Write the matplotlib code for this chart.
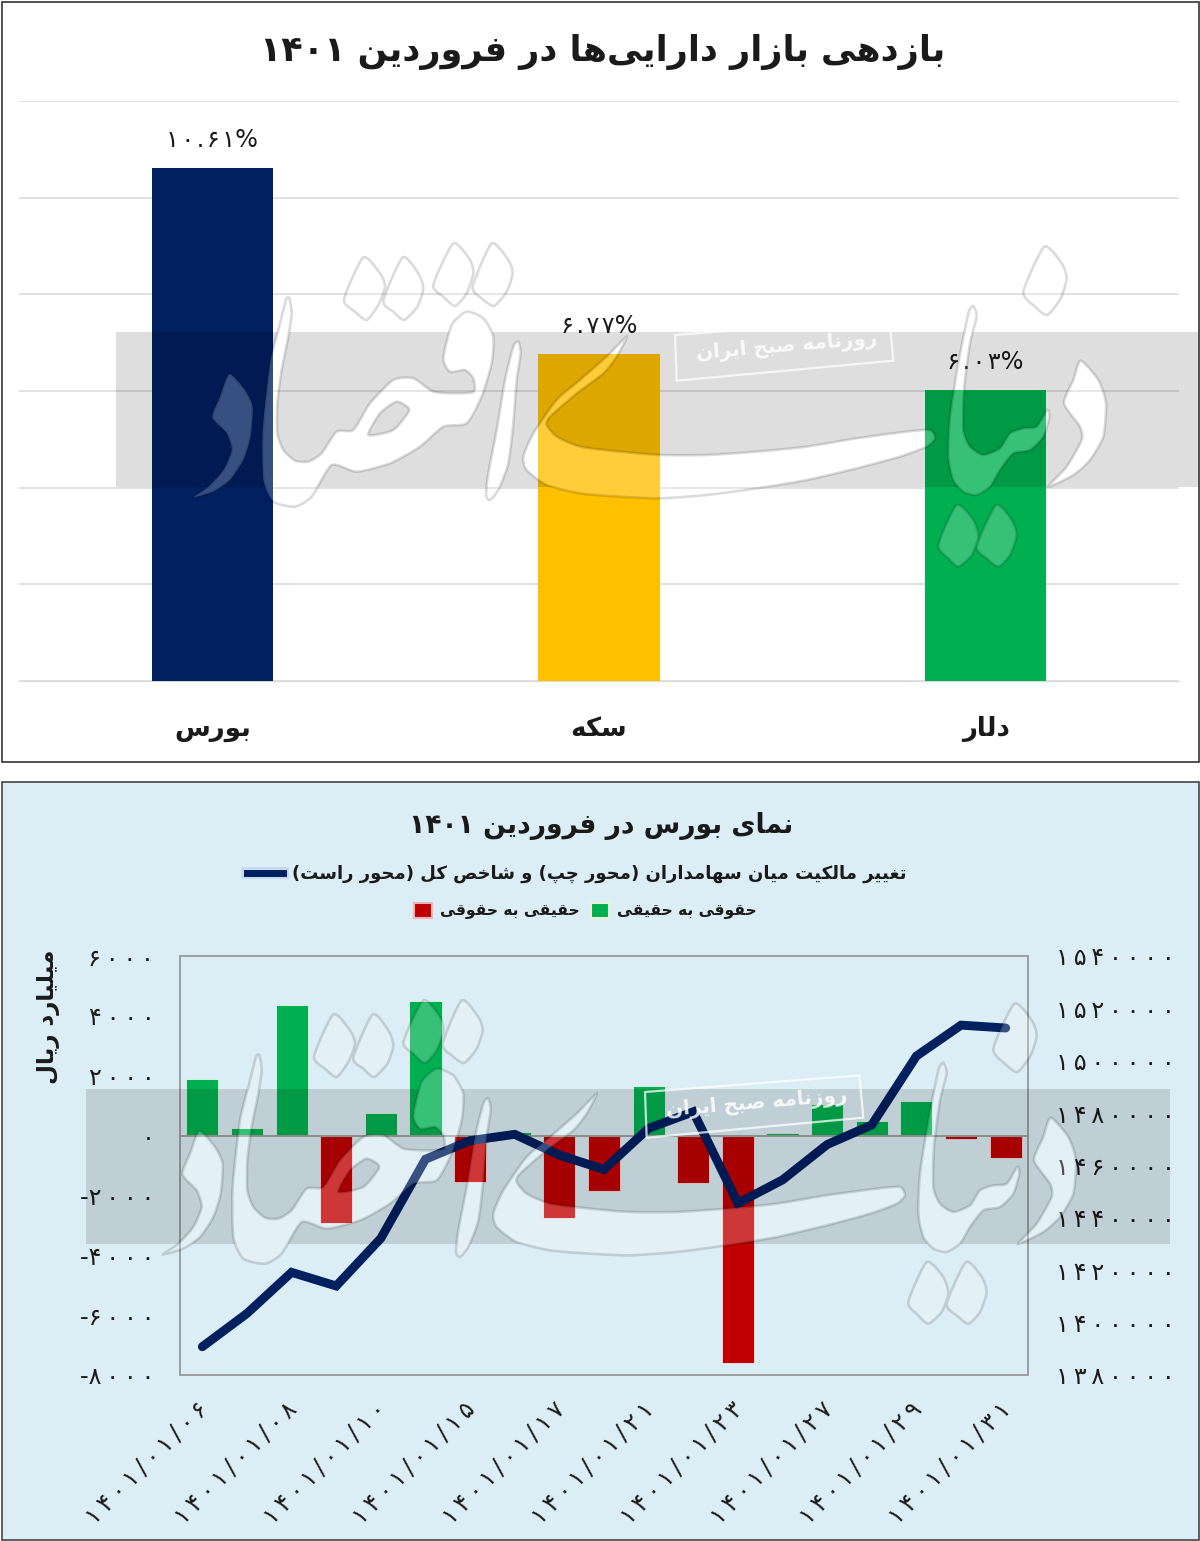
"""
Two stacked Persian charts: asset returns and the Tehran stock market in Farvardin 1401.
matplotlib does not shape Arabic script, so fa() below picks the joined letter forms.
"""

import re
import numpy as np
import matplotlib
matplotlib.use("Agg")
import matplotlib.pyplot as plt
from matplotlib.lines import Line2D
from matplotlib.patches import Patch, PathPatch, Polygon, Rectangle
from matplotlib.path import Path
from matplotlib.transforms import ScaledTranslation
import matplotlib.patheffects as pe

# ---------------- DATA ----------------
asset_names = ["بورس", "سکه", "دلار"]
asset_returns = [10.61, 6.77, 6.03]
asset_colors = ["#002060", "#FFC000", "#00B050"]

date_labels = ["1401/01/06", "1401/01/08", "1401/01/10", "1401/01/15", "1401/01/17",
               "1401/01/21", "1401/01/23", "1401/01/27", "1401/01/29", "1401/01/31"]
net_flow = np.array([1900, 240, 4370, -2930, 760, 4490, -1550, 130, -2760, -1860,
                     1650, -1600, -7600, 90, 1050, 500, 1170, -110, -760])
total_index = [1390800, 1403500, 1419200, 1414000, 1432200, 1462400, 1469500, 1471900,
               1464000, 1458500, 1474200, 1480500, 1445600, 1454500, 1468000, 1475500,
               1501800, 1513600, 1512500]
left_ticks = [-8000, -6000, -4000, -2000, 0, 2000, 4000, 6000]
right_ticks = [1380000, 1400000, 1420000, 1440000, 1460000, 1480000, 1500000, 1520000, 1540000]

title_top = "بازدهی بازار دارایی\u200cها در فروردین ۱۴۰۱"
title_bottom = "نمای بورس در فروردین ۱۴۰۱"
line_label = "تغییر مالکیت میان سهامداران (محور چپ) و شاخص کل (محور راست)"
green_label = "حقوقی به حقیقی"
red_label = "حقیقی به حقوقی"
unit_label = "میلیارد ریال"
stamp_label = "روزنامه صبح ایران"

# ---------------- CONFIG ----------------
W, H = 1200, 1541
PX = 0.72  # one pixel in points at dpi 100
plt.rcParams["font.family"] = "DejaVu Sans"
TEXT = "#1a1a1a"

# isolated, final, initial, medial (two forms: letter joins only to the right)
FORMS = {
    "ا": "\uFE8D\uFE8E", "آ": "\uFE81\uFE82", "د": "\uFEA9\uFEAA", "ر": "\uFEAD\uFEAE",
    "ز": "\uFEAF\uFEB0", "و": "\uFEED\uFEEE",
    "ب": "\uFE8F\uFE90\uFE91\uFE92", "پ": "\uFB56\uFB57\uFB58\uFB59",
    "ت": "\uFE95\uFE96\uFE97\uFE98", "ح": "\uFEA1\uFEA2\uFEA3\uFEA4",
    "خ": "\uFEA5\uFEA6\uFEA7\uFEA8", "چ": "\uFB7A\uFB7B\uFB7C\uFB7D",
    "س": "\uFEB1\uFEB2\uFEB3\uFEB4", "ش": "\uFEB5\uFEB6\uFEB7\uFEB8",
    "ص": "\uFEB9\uFEBA\uFEBB\uFEBC", "غ": "\uFECD\uFECE\uFECF\uFED0",
    "ف": "\uFED1\uFED2\uFED3\uFED4", "ق": "\uFED5\uFED6\uFED7\uFED8",
    "ک": "\uFB8E\uFB8F\uFB90\uFB91", "ل": "\uFEDD\uFEDE\uFEDF\uFEE0",
    "م": "\uFEE1\uFEE2\uFEE3\uFEE4", "ن": "\uFEE5\uFEE6\uFEE7\uFEE8",
    "ه": "\uFEE9\uFEEA\uFEEB\uFEEC", "ی": "\uFBFC\uFBFD\uFBFE\uFBFF",
}
MIRROR = {"(": ")", ")": "("}


def fa(text):
    # shape the letters, then lay the string out right to left (digit runs stay in order)
    out = []
    for i, c in enumerate(text):
        if c in FORMS:
            f = FORMS[c]
            prev_joins = i > 0 and text[i - 1] in FORMS and len(FORMS[text[i - 1]]) == 4
            next_joins = i + 1 < len(text) and text[i + 1] in FORMS
            if len(f) == 2:
                out.append(f[1] if prev_joins else f[0])
            else:
                out.append(f[3] if prev_joins and next_joins else f[1] if prev_joins
                           else f[2] if next_joins else f[0])
        elif c != "\u200c":
            out.append(c)
    runs = re.findall(r"[۰-۹]+|.", "".join(out))
    return "".join(MIRROR.get(r, r) for r in reversed(runs))


def fa_digits(value, gap="\u2009"):
    # the reference sets its numbers with wide letter spacing
    s = gap.join(str(value).translate(str.maketrans("0123456789", "۰۱۲۳۴۵۶۷۸۹")))
    return s.replace("-" + gap, "-")


def box(x0, y0, x1, y1):
    # pixel box (y down) to figure fractions
    return [x0 / W, 1 - y1 / H, (x1 - x0) / W, (y1 - y0) / H]


fig = plt.figure(figsize=(W / 100, H / 100), dpi=100, facecolor="white")

# panel backgrounds
fig.add_artist(Rectangle((1.5 / W, 1 - 762 / H), 1197.5 / W, 760.5 / H, transform=fig.transFigure,
                         facecolor="white", edgecolor="#333333", lw=1.2, zorder=-2))
fig.add_artist(Rectangle((1.5 / W, 1 - 1540 / H), 1197.5 / W, 758 / H, transform=fig.transFigure,
                         facecolor="#DCEEF5", edgecolor="#444444", lw=1.2, zorder=-2))

# ----------- TOP CHART -----------
ax1 = fig.add_axes(box(19, 101, 1179, 681), facecolor="none")
ax1.bar(range(3), asset_returns, width=0.313, color=asset_colors, zorder=3)
ax1.set_xlim(-0.5, 2.5)
ax1.set_ylim(0, 12)
ax1.set_yticks(range(0, 13, 2))
ax1.set_yticklabels([])
ax1.grid(axis="y", color="#D9D9D9", lw=1.1, zorder=0)
ax1.tick_params(length=0, pad=25)
ax1.set_xticks(range(3))
ax1.set_xticklabels([fa(n) for n in asset_names], fontsize=26 * PX, fontweight="bold", color=TEXT)
for s in ["top", "left", "right"]:
    ax1.spines[s].set_visible(False)
ax1.spines["bottom"].set_color("#D9D9D9")

for i, v in enumerate(asset_returns):
    ax1.annotate(fa_digits(f"{v:.2f}", "\u200a") + "%", (i, v), xytext=(0, 11.5),
                 textcoords="offset points", ha="center", va="bottom", fontsize=24 * PX, color=TEXT)

fig.text(603 / W, 1 - 52 / H, fa(title_top), ha="center", va="center",
         fontsize=35 * PX, fontweight="bold", color=TEXT)

# ----------- BOTTOM CHART -----------
days = np.arange(len(net_flow))
ax2 = fig.add_axes(box(180, 956, 1028, 1375), facecolor="none")
pos = net_flow > 0
ax2.bar(days[pos], net_flow[pos], width=0.72, color="#00B050", edgecolor="white", lw=0.5, zorder=2)
ax2.bar(days[~pos], net_flow[~pos], width=0.72, color="#C00000", edgecolor="white", lw=0.5, zorder=2)
ax2.axhline(0, color="#A0A0A0", lw=1.4, zorder=3)
ax2.set_xlim(-0.5, len(net_flow) - 0.5)
ax2.set_ylim(-8000, 6000)
ax2.set_yticks(left_ticks)
ax2.set_yticklabels([fa_digits(t) for t in left_ticks], fontsize=24 * PX, color=TEXT)
ax2.set_xticks(days[::2])
ax2.set_xticklabels([fa_digits(d) for d in date_labels], rotation=45, ha="right",
                    rotation_mode="anchor", fontsize=24 * PX, color=TEXT)
ax2.tick_params(axis="both", length=0)
ax2.tick_params(axis="y", pad=18.5)
ax2.tick_params(axis="x", pad=16)
for lab in ax2.get_xticklabels():
    lab.set_transform(lab.get_transform() + ScaledTranslation(-7 / 100, 0, fig.dpi_scale_trans))
ax2.set_ylabel(fa(unit_label), fontsize=23 * PX, fontweight="bold", color=TEXT)
ax2.yaxis.set_label_coords(-120 / 848, 0.854)

ax3 = ax2.twinx()
ax3.plot(days, total_index, color="#002060", lw=6.4, solid_capstyle="round",
         solid_joinstyle="miter", zorder=5)
ax3.set_ylim(1380000, 1540000)
ax3.set_yticks(right_ticks)
ax3.set_yticklabels([fa_digits(t) for t in right_ticks], fontsize=24 * PX, color=TEXT)
ax3.tick_params(axis="y", length=0, pad=20)
for a in [ax2, ax3]:
    for s in a.spines.values():
        s.set_color("#A0A0A0")
        s.set_linewidth(1.4)

fig.text(601 / W, 1 - 826 / H, fa(title_bottom), ha="center", va="center",
         fontsize=26.5 * PX, fontweight="bold", color=TEXT)

line_handle = Line2D([], [], color="#002060", lw=5,
                     path_effects=[pe.withStroke(linewidth=8.5, foreground="#C6D9F1")])
leg1 = fig.legend(handles=[line_handle], labels=[fa(line_label)], loc="center",
                  bbox_to_anchor=(577 / W, 1 - 874 / H), frameon=False, handlelength=2.0,
                  handletextpad=0.5, prop={"size": 18 * PX, "weight": "bold"}, labelcolor=TEXT)
red_handle = Patch(facecolor="#C00000", edgecolor="#EBB5B5", lw=1.5)
green_handle = Patch(facecolor="#00B050", edgecolor="#EAF3D5", lw=1.5)
leg2 = fig.legend(handles=[red_handle, green_handle], labels=[fa(red_label), fa(green_label)],
                  loc="center", bbox_to_anchor=(585.5 / W, 1 - 911 / H), frameon=False, ncol=2,
                  handlelength=1.15, handleheight=1.15, handletextpad=0.55, columnspacing=0.7,
                  prop={"size": 15.5 * PX, "weight": "bold"}, labelcolor=TEXT)

# ----------- WATERMARK -----------


def z6(pts):
    return [(180 + x / 3, 230 + y / 3) for x, y in pts]


def z7(pts):
    return [(640 + x / 3, 230 + y / 3) for x, y in pts]


def smooth(pts, n=10, k=0.32):
    # closed Hermite curve through the outline, oriented the same way for every glyph
    p = np.array(pts, dtype=float)
    t = np.linspace(0, 1, n, endpoint=False)[:, None]
    out = []
    for i in range(len(p)):
        a, b, c, d = p[i - 1], p[i], p[(i + 1) % len(p)], p[(i + 2) % len(p)]
        m0, m1 = k * (c - a), k * (d - b)
        out.append((2 * t ** 3 - 3 * t ** 2 + 1) * b + (t ** 3 - 2 * t ** 2 + t) * m0
                   + (-2 * t ** 3 + 3 * t ** 2) * c + (t ** 3 - t ** 2) * m1)
    out = np.vstack(out)
    x, y = out[:, 0], out[:, 1]
    if np.sum(x * np.roll(y, -1) - np.roll(x, -1) * y) > 0:
        out = out[::-1]
    return out


glyphs = [
    z6([(550, 82), (600, 130), (615, 170), (595, 225), (560, 270), (525, 245), (492, 208)]),
    z6([(668, 82), (715, 130), (730, 175), (712, 230), (672, 270), (640, 245), (610, 212)]),
    z6([(820, 40), (870, 90), (880, 130), (860, 190), (825, 228), (790, 200), (760, 165)]),
    z6([(935, 40), (985, 90), (998, 130), (980, 185), (942, 228), (905, 205), (878, 170)]),
    z6([(148, 432), (195, 480), (218, 530), (212, 620), (190, 690), (150, 750), (100, 785),
        (40, 802), (85, 770), (130, 720), (155, 660), (140, 610), (97, 562), (120, 500)]),
    z6([(1015, 335), (1022, 370), (1010, 450), (1000, 580), (985, 700), (955, 780), (930, 810),
        (918, 795), (925, 730), (950, 600), (975, 450), (1000, 350)]),
    # alef running into sad and qaf
    z6([(328, 205), (335, 250), (325, 320), (305, 420), (292, 520), (292, 610), (310, 660),
        (345, 692), (385, 695), (425, 670), (470, 605), (520, 600), (570, 520), (640, 450),
        (700, 445), (760, 485), (830, 490), (882, 485), (880, 445), (855, 420), (810, 425),
        (790, 385), (815, 285), (860, 245), (910, 265), (940, 320), (935, 400), (905, 500),
        (860, 580), (790, 590), (720, 650), (630, 700), (530, 725), (455, 705), (395, 800),
        (345, 830), (280, 815), (250, 750), (248, 600), (270, 400), (300, 280), (318, 210)]),
    # long swash
    z6([(1340, 320), (1310, 380), (1270, 430), (1190, 490), (1110, 560), (1100, 585), (1130, 620),
        (1200, 650), (1320, 665), (1440, 675)])
    + z7([(200, 675), (350, 665), (500, 650), (650, 625), (800, 605), (870, 600), (885, 625),
          (860, 650), (780, 680), (650, 715), (500, 750), (350, 775), (200, 795)])
    + z6([(1440, 805), (1320, 800), (1200, 790), (1100, 765), (1040, 720), (1030, 680), (1060, 610),
          (1130, 510), (1200, 450), (1280, 380)]),
    z7([(1000, 228), (1010, 260), (990, 340), (972, 480), (970, 600), (990, 650), (1030, 675),
        (1080, 655), (1110, 610), (1150, 595), (1190, 590), (1222, 540), (1228, 560), (1210, 620),
        (1170, 660), (1120, 670), (1080, 720), (1050, 770), (1010, 795), (970, 785), (940, 750),
        (925, 680), (930, 560), (955, 400), (985, 250)]),
    z7([(950, 825), (1000, 870), (1015, 920), (995, 975), (955, 1010), (925, 985), (895, 945)]),
    z7([(1068, 825), (1115, 870), (1130, 915), (1110, 975), (1075, 1010), (1040, 985), (1010, 950)]),
    z7([(1213, 50), (1265, 100), (1280, 145), (1262, 205), (1222, 255), (1185, 230), (1150, 185)]),
    z7([(1322, 392), (1375, 450), (1398, 520), (1390, 620), (1350, 690), (1300, 735), (1225, 770),
        (1280, 710), (1325, 630), (1320, 590), (1272, 520), (1300, 450)]),
]
counter = z6([(565, 615), (600, 550), (650, 515), (688, 540), (640, 600)])
stamp_corners = z7([(105, 315), (748, 265), (760, 392), (110, 452)])

ov = fig.add_axes([0, 0, 1, 1], facecolor="none", zorder=20)
ov.set_xlim(0, W)
ov.set_ylim(H, 0)
ov.axis("off")


def draw_watermark(dx, dy, band_x0, band_x1):
    outlines = [smooth(g) + (dx, dy) for g in glyphs]
    hole = smooth(counter)[::-1] + (dx, dy)
    loops = outlines + [hole]

    verts, codes = [], []
    for loop in loops:
        verts.extend(loop.tolist() + [loop[0].tolist()])
        codes.extend([Path.MOVETO] + [Path.LINETO] * (len(loop) - 1) + [Path.CLOSEPOLY])
    # band with the letters cut out of it
    y0, y1 = 332 + dy, 487 + dy
    rect = np.array([(band_x0, y0), (band_x0, y1), (band_x1, y1), (band_x1, y0), (band_x0, y0)])
    x, y = rect[:-1, 0], rect[:-1, 1]
    if np.sum(x * np.roll(y, -1) - np.roll(x, -1) * y) < 0:
        rect = rect[::-1]
    band_verts = rect.tolist() + verts
    band_codes = [Path.MOVETO, Path.LINETO, Path.LINETO, Path.LINETO, Path.CLOSEPOLY] + codes
    band = PathPatch(Path(band_verts, band_codes), facecolor="black", alpha=0.13, lw=0)
    ov.add_patch(band)
    band.set_clip_path(Rectangle((band_x0, y0), band_x1 - band_x0, y1 - y0, transform=ov.transData))
    # letters lighten what lies under them and carry a soft dark outline
    ov.add_patch(PathPatch(Path(verts, codes), facecolor="white", alpha=0.22, lw=0))
    ov.add_patch(PathPatch(Path(verts, codes), facecolor="none", edgecolor="black", alpha=0.14, lw=1.9))

    ov.add_patch(Polygon(np.array(stamp_corners) + (dx, dy), closed=True, facecolor="none",
                         edgecolor="white", alpha=0.75, lw=1.6))
    ov.text(787 + dx, 346 + dy, fa(stamp_label), rotation=4.8, rotation_mode="anchor", ha="center",
            va="center", color="white", alpha=0.85, fontsize=20 * PX, fontweight="bold")


draw_watermark(0, 0, 116, 1198)
draw_watermark(-30, 757, 86, 1170)

fig.savefig("out.png", dpi=100)
